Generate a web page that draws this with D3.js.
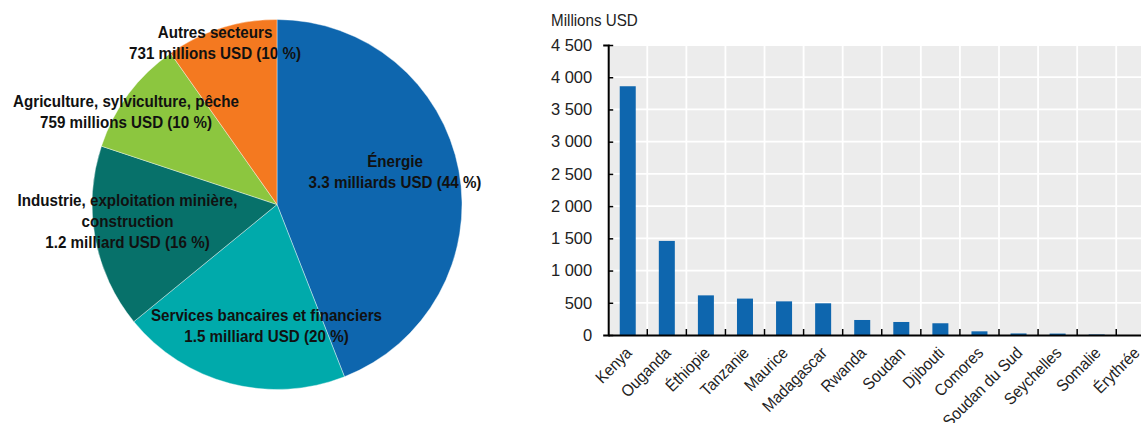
<!DOCTYPE html>
<html><head><meta charset="utf-8">
<script src="https://cdn.jsdelivr.net/npm/d3@7"></script>
<style>
body{margin:0;background:#fff;}
svg text{font-family:"Liberation Sans Narrow","Arial Narrow","Liberation Sans",Arial,sans-serif;}
</style></head>
<body><svg id="c" width="1141" height="423"></svg>
<script>
// Pie data
const sectors = ["Énergie","Services bancaires et financiers","Industrie, exploitation minière, construction","Agriculture, sylviculture, pêche","Autres secteurs"];
const sectorValues = [3.3, 1.5, 1.2, 0.759, 0.731]; // milliards USD
const sectorLabels = [
  ["Énergie","3.3 milliards USD (44 %)"],
  ["Services bancaires et financiers","1.5 milliard USD (20 %)"],
  ["Industrie, exploitation minière,","construction","1.2 milliard USD (16 %)"],
  ["Agriculture, sylviculture, pêche","759 millions USD (10 %)"],
  ["Autres secteurs","731 millions USD (10 %)"]
];
const sectorColors = ["#0e66ae","#00aaab","#07716a","#8cc63f","#f47920"];

// Bar data
const countries = ["Kenya","Ouganda","Éthiopie","Tanzanie","Maurice","Madagascar","Rwanda","Soudan","Djibouti","Comores","Soudan du Sud","Seychelles","Somalie","Érythrée"];
const countryValues = [3860, 1460, 615, 565, 522, 492, 233, 202, 182, 57, 24, 22, 8, 0];
const yTicks = [0,500,1000,1500,2000,2500,3000,3500,4000,4500];

const FS = 16.5, SX = 0.92;
const svg = d3.select("#c");

// ---------- Pie ----------
const cx = 277, cy = 204.5, R = 185;
const pie = d3.pie().sort(null).value(d => d)(sectorValues);
const arc = d3.arc().innerRadius(0).outerRadius(R);
const gp = svg.append("g").attr("transform", `translate(${cx},${cy})`);
gp.selectAll("path").data(pie).join("path")
  .attr("d", arc).attr("fill", (d,i) => sectorColors[i])
  .attr("stroke", "#fff").attr("stroke-width", 0.4);

// label anchor positions (center x, first baseline y)
const labelPos = [[395,166.5],[266.5,320.5],[127.5,205.5],[126,107],[215,38]];
sectorLabels.forEach((lines, i) => {
  const t = svg.append("text")
    .attr("transform", `translate(${labelPos[i][0]},${labelPos[i][1]}) scale(${SX},1)`)
    .attr("text-anchor","middle").attr("font-weight","bold")
    .attr("font-size", FS).attr("fill","#111");
  lines.forEach((l, j) => t.append("tspan").attr("x", 0).attr("dy", j ? 21.5 : 0).text(l));
});

// ---------- Bars ----------
const step = 39.08;
const x0 = 608.2;
const x = d3.scaleBand().domain(countries).range([x0, x0 + step * countries.length]).paddingInner(0).paddingOuter(0);
const y = d3.scaleLinear().domain([0, 4500]).range([335, 45]);
const xEnd = x0 + step * countries.length;

svg.append("rect").attr("x", x0).attr("y", y(4500))
  .attr("width", xEnd - x0).attr("height", y(0) - y(4500)).attr("fill", "#ececec");

// grid
svg.append("g").selectAll("line").data(yTicks.slice(1)).join("line")
  .attr("x1", x0).attr("x2", xEnd)
  .attr("y1", d => y(d)).attr("y2", d => y(d))
  .attr("stroke", "#fff").attr("stroke-width", 1.8);
svg.append("g").selectAll("line").data(countries.slice(1)).join("line")
  .attr("x1", d => x(d)).attr("x2", d => x(d))
  .attr("y1", y(4500)).attr("y2", y(0))
  .attr("stroke", "#fff").attr("stroke-width", 1.8);

const bw = 16;
svg.append("g").selectAll("rect").data(countries).join("rect")
  .attr("x", d => x(d) + x.bandwidth()/2 - bw/2)
  .attr("y", (d,i) => y(countryValues[i]))
  .attr("width", bw)
  .attr("height", (d,i) => y(0) - y(countryValues[i]))
  .attr("fill", "#0e66ae");

// y axis
const ya = svg.append("g").attr("transform", `translate(${x0},0)`)
  .call(d3.axisLeft(y).tickValues(yTicks).tickSize(5).tickFormat(d => d3.format(",")(d).replace(",", " ")));
ya.attr("font-family", null);
ya.select(".domain").attr("stroke","#000").attr("stroke-width",2);
ya.selectAll(".tick line").attr("stroke","#000").attr("stroke-width",1.5).attr("x2",5);
ya.selectAll(".tick text").attr("x",-16).attr("font-size",FS).attr("fill","#222");

// x axis
const xa = svg.append("g").attr("transform", `translate(0,${y(0)})`)
  .call(d3.axisBottom(x).tickSize(0).tickSizeOuter(0));
xa.attr("font-family", null);
xa.select(".domain").attr("stroke","#000").attr("stroke-width",2);
xa.selectAll(".tick text")
  .attr("font-size",FS).attr("fill","#222")
  .attr("text-anchor","end")
  .attr("x",0).attr("y",0).attr("dy",0)
  .attr("transform",`translate(5,19) rotate(-45) scale(${SX},1)`);
// tick marks between categories
svg.append("g").selectAll("line").data(countries.slice(1)).join("line")
  .attr("x1", d => x(d)).attr("x2", d => x(d))
  .attr("y1", y(0)).attr("y2", y(0) - 6)
  .attr("stroke","#000").attr("stroke-width",1.5);

svg.append("text").attr("transform", `translate(551,26) scale(${SX},1)`)
  .attr("font-size", FS).attr("fill","#222").text("Millions USD");
</script></body></html>
